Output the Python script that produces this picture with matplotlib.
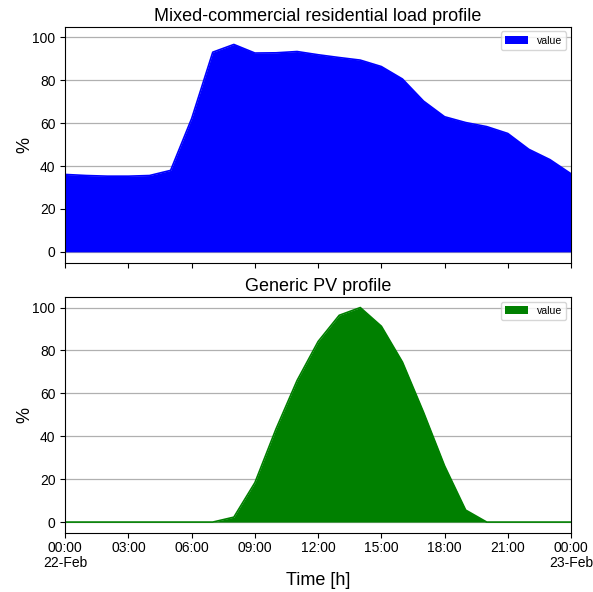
import numpy as np
import pandas as pd
import matplotlib
matplotlib.use("Agg")
import matplotlib.pyplot as plt
import matplotlib.dates as mdates
from matplotlib.ticker import FuncFormatter

plt.rcParams['font.family'] = ['Liberation Sans', 'DejaVu Sans']

# hourly profiles, 22-Feb 00:00 .. 23-Feb 00:00
times = pd.date_range("2023-02-22 00:00", periods=25, freq="h")
load = [36.1, 35.6, 35.3, 35.3, 35.6, 38.0, 62.2, 93.1, 96.7, 92.7, 92.8, 93.4,
        91.9, 90.6, 89.4, 86.4, 80.6, 70.3, 63.0, 60.3, 58.4, 55.2, 47.8, 43.0, 36.4]
pv = [0, 0, 0, 0, 0, 0, 0, 0, 2.3, 18.4, 43.4, 66.0,
      84.2, 96.4, 100.0, 91.3, 74.6, 51.2, 26.2, 5.6, 0, 0, 0, 0, 0]

titles = ["Mixed-commercial residential load profile", "Generic PV profile"]
colors = ["blue", "green"]


def fmt_time(x, pos):
    d = mdates.num2date(x)
    if d.hour == 0 and d.minute == 0:
        return d.strftime("%H:%M\n%d-%b")
    return d.strftime("%H:%M")


fig, axes = plt.subplots(2, 1, figsize=(5.93, 5.92), dpi=100, sharex=True)
fig.subplots_adjust(left=0.11, right=0.963, top=0.955, bottom=0.1, hspace=0.145)

for ax, vals, title, c in zip(axes, [load, pv], titles, colors):
    ax.fill_between(times, 0, vals, color=c, label="value", linewidth=0)
    ax.plot(times, vals, color=c, linewidth=1.2, solid_capstyle="butt")
    ax.set_title(title, fontsize=13, pad=4)
    ax.set_ylabel("%", fontsize=13, labelpad=-1)
    ax.set_ylim(-5, 105)
    ax.set_yticks([0, 20, 40, 60, 80, 100])
    ax.grid(axis="y", color="#b0b0b0", linewidth=0.9)
    ax.set_axisbelow(True)
    ax.tick_params(labelsize=10)
    ax.legend(loc="upper right", fontsize=7.6, handlelength=2.2, borderaxespad=0.45)

ax = axes[1]
ax.set_xlim(times[0], times[-1])
ax.xaxis.set_major_locator(mdates.HourLocator(byhour=range(0, 24, 3)))
ax.xaxis.set_major_formatter(FuncFormatter(fmt_time))
ax.tick_params(axis="x", pad=2.5)
ax.set_xlabel("Time [h]", fontsize=13, labelpad=2)
for lbl in ax.get_xticklabels():
    lbl.set_ha("center")
    lbl.set_linespacing(1.05)

fig.savefig("out.png", dpi=100)
